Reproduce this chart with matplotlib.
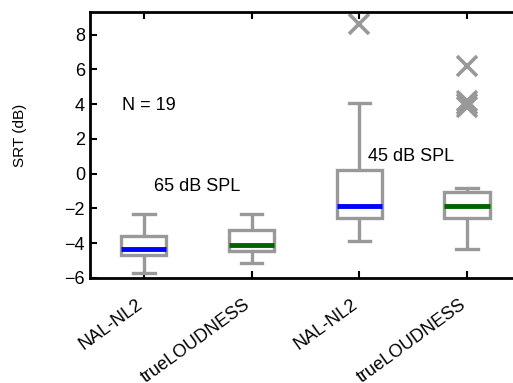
import matplotlib
matplotlib.use("Agg")
import matplotlib.pyplot as plt
import matplotlib.transforms as mtransforms

### Box statistics (SRT in dB)
labels = ["NAL-NL2", "trueLOUDNESS", "NAL-NL2", "trueLOUDNESS"]
medians = [-4.35, -4.13, -1.87, -1.87]
q1 = [-4.67, -4.46, -2.57, -2.57]
q3 = [-3.6, -3.24, 0.19, -1.05]
whis_lo = [-5.7, -5.14, -3.9, -4.34]
whis_hi = [-2.3, -2.3, 4.06, -0.82]
outliers = [[], [], [8.6], [6.2, 4.2, 4.0, 3.85]]
median_colors = ["#0000ff", "#006400", "#0000ff", "#006400"]

plt.rcParams["font.family"] = ["Liberation Sans", "DejaVu Sans"]
plt.rcParams["font.size"] = 13

fig = plt.figure(figsize=(5.13, 3.83), dpi=100)
ax = fig.add_axes([0.1754, 0.2742, 0.840, 0.6945])

stats = []
for i in range(len(labels)):
    stats.append(dict(med=medians[i], q1=q1[i], q3=q3[i],
                      whislo=whis_lo[i], whishi=whis_hi[i],
                      fliers=outliers[i], label=labels[i]))

grey = "#999999"
bp = ax.bxp(stats, positions=[1, 2, 3, 4], widths=0.42, patch_artist=True,
            boxprops=dict(facecolor="white", edgecolor=grey, linewidth=2.4),
            whiskerprops=dict(color=grey, linewidth=2.4, solid_capstyle="butt"),
            capprops=dict(color=grey, linewidth=2.4),
            capwidths=0.2,
            flierprops=dict(marker="x", markeredgecolor=grey, markersize=15,
                            markeredgewidth=2.6, linestyle="none"),
            medianprops=dict(linewidth=3.5))
for line, c in zip(bp["medians"], median_colors):
    line.set_color(c)
    line.set_solid_capstyle("butt")

ax.set_xlim(0.5, 4.5)
ax.set_ylim(-6, 9.3)
ax.set_yticks([-6, -4, -2, 0, 2, 4, 6, 8])
ax.set_xticks([1, 2, 3, 4])
ax.set_xticklabels(labels, rotation=36, ha="right", va="top", rotation_mode="anchor")
ax.tick_params(direction="in", length=5, width=1.5, top=True, right=True)
ax.tick_params(axis="x", pad=10)
shift = mtransforms.ScaledTranslation(-0.08, -0.04, fig.dpi_scale_trans)
for lab in ax.get_xticklabels():
    lab.set_transform(lab.get_transform() + shift)
for s in ax.spines.values():
    s.set_linewidth(2)

ax.set_ylabel("SRT (dB)", fontsize=11)
ax.yaxis.set_label_coords(-0.146, 0.538)

ax.text(0.8, 3.9, "N = 19", va="center", ha="left")
ax.text(1.49, -0.75, "65 dB SPL", va="center", ha="center")
ax.text(3.08, 1.0, "45 dB SPL", va="center", ha="left")

fig.savefig("out.png", dpi=100)
